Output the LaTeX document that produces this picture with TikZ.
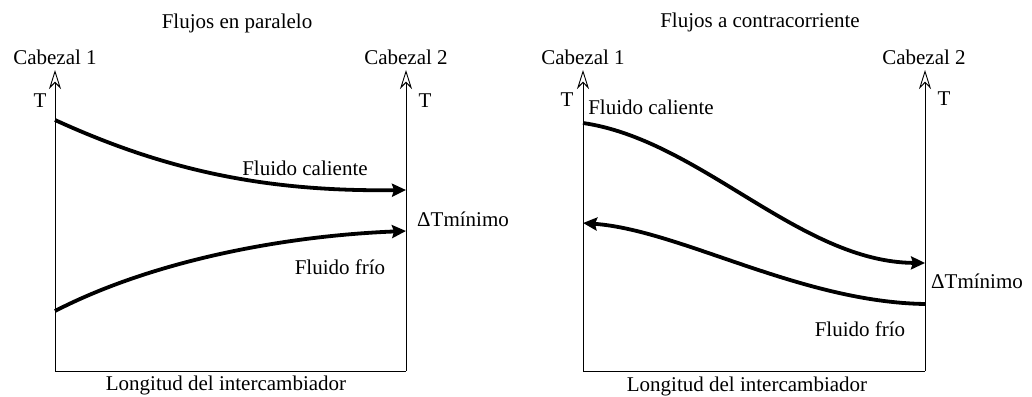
\documentclass[tikz,border=0pt]{standalone}
\usepackage{fontspec}
\setmainfont{Liberation Serif}
\usetikzlibrary{arrows.meta}
\begin{document}
\begin{tikzpicture}[x=1pt,y=-1pt,
  lbl/.style={font=\fontsize{21}{23}\selectfont, inner sep=0pt},
  axis/.style={line width=0.9pt, -{Stealth[open,length=19pt,width=12pt,inset=6pt]}},
  frame/.style={line width=0.9pt},
  flow/.style={line width=3.8pt, -{Stealth[length=14pt,width=13pt,inset=2pt]}},
  flowback/.style={line width=3.8pt, {Stealth[length=14pt,width=13pt,inset=2pt]}-}]
\useasboundingbox (0,0) rectangle (1032,396);

% ---- parallel flow ----
\coordinate (pBL) at (55,371);
\coordinate (pBR) at (406,371);
\coordinate (pTL) at (55,70);
\coordinate (pTR) at (406,70);
\draw[frame] (pBL) -- (pBR);
\draw[axis] (pBL) -- (pTL);
\draw[axis] (pBR) -- (pTR);
\node[lbl] (pTitle) at (237,23) {Flujos en paralelo};
\node[lbl] (pC1) at (55,57) {Cabezal 1};
\node[lbl] (pC2) at (406,57) {Cabezal 2};
\node[lbl] (pT1) at (40,101) {T};
\node[lbl] (pT2) at (425,101) {T};
\node[lbl] (pLen) at (226,385) {Longitud del intercambiador};
\node[lbl] (pDT) at (463,219) {ΔTmínimo};
\node[lbl] (pHot) at (305,168) {Fluido caliente};
\node[lbl] (pCold) at (340,267) {Fluido frío};
\coordinate (pH0) at (55,120);
\coordinate (pH1) at (406,190);
\coordinate (pK0) at (55,311);
\coordinate (pK1) at (406,231);
\draw[flow] (pH0) .. controls (160,168) and (260,192) .. (pH1);
\draw[flow] (pK0) .. controls (150,262) and (280,236) .. (pK1);

% ---- counter flow ----
\coordinate (cBL) at (583,371);
\coordinate (cBR) at (925,371);
\coordinate (cTL) at (583,70);
\coordinate (cTR) at (925,70);
\draw[frame] (cBL) -- (cBR);
\draw[axis] (cBL) -- (cTL);
\draw[axis] (cBR) -- (cTR);
\node[lbl] (cTitle) at (760,22) {Flujos a contracorriente};
\node[lbl] (cC1) at (583,57) {Cabezal 1};
\node[lbl] (cC2) at (924,57) {Cabezal 2};
\node[lbl] (cT1) at (567,100) {T};
\node[lbl] (cT2) at (944,99) {T};
\node[lbl] (cLen) at (747,386) {Longitud del intercambiador};
\node[lbl] (cDT) at (977,281) {ΔTmínimo};
\node[lbl] (cHot) at (651,107) {Fluido caliente};
\node[lbl] (cCold) at (860,329) {Fluido frío};
\coordinate (cH0) at (583,123);
\coordinate (cH1) at (925,263);
\coordinate (cK0) at (583,223);
\coordinate (cK1) at (925,304);
\draw[flow] (cH0) .. controls (700,140) and (800,262) .. (cH1);
\draw[flowback] (cK0) .. controls (680,230) and (800,302) .. (cK1);
\end{tikzpicture}
\end{document}
